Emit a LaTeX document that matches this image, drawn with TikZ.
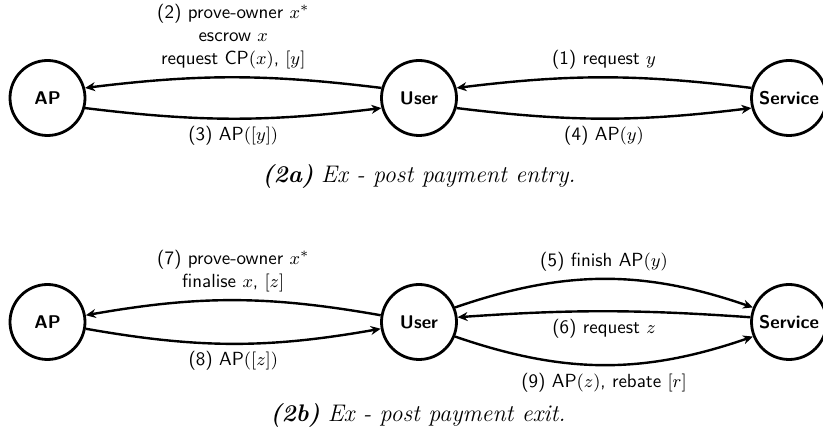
\documentclass[tikz,border=0pt]{standalone}
\usepackage{amsmath}
\usepackage{tikz}
\usetikzlibrary{arrows.meta}

\begin{document}
\begin{tikzpicture}[x=0.5pt,y=-0.5pt,
  party/.style={draw,circle,line width=1.4pt,minimum size=37.5pt,inner sep=0pt,font=\fontsize{9.2}{11}\selectfont\sffamily\bfseries},
  msg/.style={-{Stealth[length=5pt,width=4.5pt]},line width=1.2pt},
  lbl/.style={font=\fontsize{9.5}{11.5}\selectfont\sffamily,align=center},
  capt/.style={font=\large}]

\useasboundingbox (0,0) rectangle (823,437);

\node[party] (ap) at (47.5,98) {AP};
\node[party] (user) at (419,98) {User};
\node[party] (service) at (789,98) {Service};

\draw[msg] (service.165) to[bend right=7] node[lbl,above] {(1) request $y$} (user.15);
\draw[msg] (user.165) to[bend right=7] node[lbl,above] {(2) prove-owner $x^*$\\ escrow $x$\\ request CP$(x)$, $[y]$} (ap.15);
\draw[msg] (ap.-15) to[bend right=7] node[lbl,below] {(3) AP$([y])$} (user.195);
\draw[msg] (user.-15) to[bend right=7] node[lbl,below] {(4) AP$(y)$} (service.195);

\node[capt] (capta) at (419,176) {\textbf{\textit{(2a)}} \textit{Ex - post payment entry.}};

\node[party] (ap2) at (47.5,322) {AP};
\node[party] (user2) at (419,322) {User};
\node[party] (service2) at (789,322) {Service};

\draw[msg] (user2.22) to[bend left=19] node[lbl,above] {(5) finish AP$(y)$} (service2.158);
\draw[msg] (service2.173) to[bend right=4] node[lbl,below] {(6) request $z$} (user2.7);
\draw[msg] (user2.170) to[bend right=10] node[lbl,above] {(7) prove-owner $x^*$\\ finalise $x$, $[z]$} (ap2.10);
\draw[msg] (ap2.-10) to[bend right=10] node[lbl,below] {(8) AP$([z])$} (user2.190);
\draw[msg] (user2.-22) to[bend right=19] node[lbl,below] {(9) AP$(z)$, rebate $[r]$} (service2.202);

\node[capt] (captb) at (418,415) {\textbf{\textit{(2b)}} \textit{Ex - post payment exit.}};

\end{tikzpicture}
\end{document}
